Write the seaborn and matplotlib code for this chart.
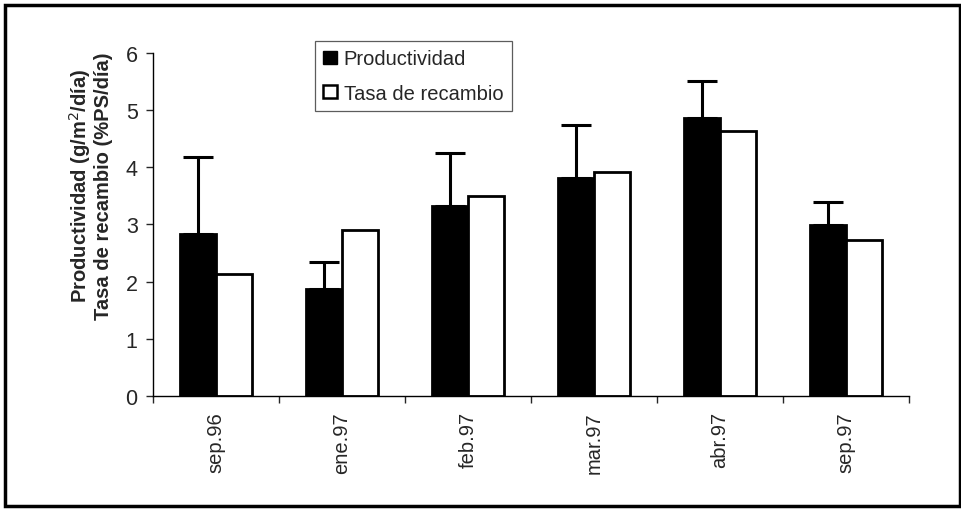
import matplotlib
matplotlib.use('Agg')
import matplotlib.pyplot as plt
import seaborn as sns
import pandas as pd
import numpy as np
from matplotlib.patches import Rectangle, Patch

meses = ['sep.96', 'ene.97', 'feb.97', 'mar.97', 'abr.97', 'sep.97']
productividad = [2.83, 1.88, 3.33, 3.81, 4.86, 2.99]
prod_error = [1.35, 0.47, 0.92, 0.93, 0.65, 0.40]
tasa_recambio = [2.13, 2.91, 3.49, 3.91, 4.63, 2.73]

series = ['Productividad', 'Tasa de recambio']

df = pd.DataFrame({
    'Mes': meses * 2,
    'Serie': [series[0]] * len(meses) + [series[1]] * len(meses),
    'Valor': productividad + tasa_recambio,
})

sns.set_style('white')
plt.rcParams['font.family'] = ['Liberation Sans', 'DejaVu Sans']

fig = plt.figure(figsize=(9.62, 5.1), dpi=100)
ax = fig.add_axes([0.159, 0.2216, 0.786, 0.6725])

sns.barplot(data=df, x='Mes', y='Valor', hue='Serie', order=meses,
            hue_order=series, palette=['black', 'white'], width=0.57,
            edgecolor='black', linewidth=2, errorbar=None, ax=ax,
            legend=False)

# upper error bars on the black bars only
xs = [p.get_x() + p.get_width() / 2 for p in ax.containers[0]]
ax.errorbar(xs, productividad, yerr=[np.zeros(len(meses)), prod_error],
            fmt='none', ecolor='black', elinewidth=2.2, capsize=11,
            capthick=2.2)

ax.set_ylim(0, 6)
ax.set_xlim(-0.5, len(meses) - 0.5)
ax.set_yticks(range(0, 7))
ax.tick_params(axis='y', labelsize=15.5, length=5, width=1, direction='out',
               left=True, pad=6)
ax.tick_params(axis='x', which='major', labelsize=14.5, length=0, pad=11,
               labelrotation=90)
ax.set_xticks(np.arange(-0.5, len(meses)), minor=True)
ax.tick_params(axis='x', which='minor', length=5, width=1, bottom=True,
               direction='out')
ax.set_xlabel('')
ax.set_ylabel('Productividad (g/m$^2$/día)\nTasa de recambio (%PS/día)',
              fontsize=14.5, fontweight='bold', linespacing=1.05)
ax.yaxis.set_label_coords(-0.053, 0.615)
for side in ['top', 'right']:
    ax.spines[side].set_visible(False)
for side in ['left', 'bottom']:
    ax.spines[side].set_color('black')
    ax.spines[side].set_linewidth(1)

handles = [Patch(facecolor='black', edgecolor='black', label=series[0]),
           Patch(facecolor='white', edgecolor='black', linewidth=1.8,
                 label=series[1])]
leg = fig.legend(handles=handles, loc='upper left',
                 bbox_to_anchor=(315 / 962, 1 - 42 / 510), fontsize=14.5,
                 frameon=True, fancybox=False, handlelength=0.65,
                 handleheight=0.65, handletextpad=0.35, borderpad=0.42,
                 labelspacing=0.75, borderaxespad=0)
leg.get_frame().set_edgecolor('#333333')
leg.get_frame().set_linewidth(0.9)

# outer frame of the figure
fig.patches.append(Rectangle((5 / 962, 3 / 510), 955 / 962, 501 / 510,
                             transform=fig.transFigure, fill=False,
                             edgecolor='black', linewidth=2.5))

fig.savefig('out.png', dpi=100)
